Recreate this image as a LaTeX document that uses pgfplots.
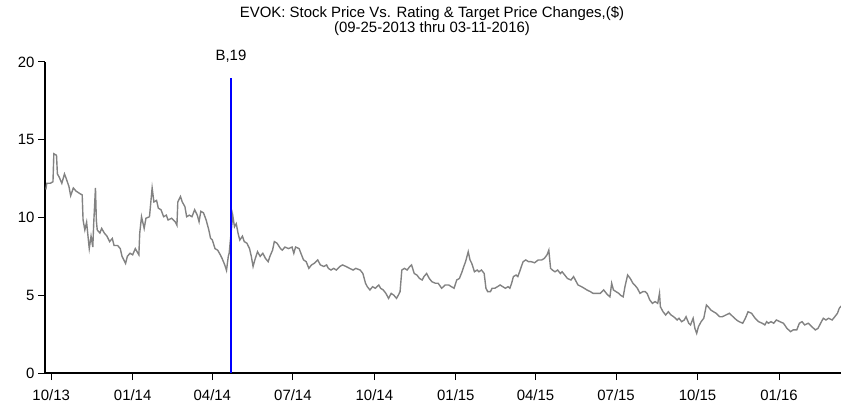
\documentclass[border=0pt]{standalone}
\usepackage{pgfplots}
\pgfplotsset{compat=1.18}
\usepackage{fontspec}
\setmainfont{Liberation Sans}
\pgfplotstableread{
day price
-6 11.8
-5 12.2
-1 12.2
2 12.3
3 14.1
6 14.0
7 12.8
9 12.6
12 12.2
15 12.8
17 12.5
20 12.0
22 11.4
25 11.9
28 11.7
32 11.55
35 11.45
36 9.84
38 9.2
40 9.7
42 8.55
43 8.0
45 8.8
47 8.1
48 9.6
50 11.9
51 9.8
52 9.2
55 9.0
57 9.3
60 9.0
63 8.8
66 8.45
69 8.65
71 8.2
75 8.2
78 8.0
80 7.5
84 7.05
86 7.5
89 7.7
92 7.6
95 8.0
99 7.6
100 9.0
102 10.05
105 9.3
107 9.95
111 10.05
114 11.9
116 11.0
119 11.1
121 10.6
124 10.5
127 10.05
130 10.15
132 9.84
136 9.95
140 9.73
142 9.5
143 11.0
146 11.35
148 11.0
151 10.7
153 10.05
156 10.15
159 10.05
162 10.5
165 10.15
167 9.73
169 10.4
172 10.3
175 9.84
178 9.2
180 8.66
182 8.55
185 8.0
188 7.9
191 7.6
193 7.37
196 6.95
198 6.6
200 7.5
201 7.7
205 10.15
207 9.4
209 9.6
211 9.0
213 8.55
216 8.8
218 8.45
221 8.35
224 8.0
226 7.5
228 6.85
230 7.27
233 7.8
236 7.5
239 7.7
242 7.37
245 7.16
247 7.5
250 7.9
252 8.45
255 8.35
259 8.0
261 7.9
264 8.1
268 8.0
272 8.1
274 7.7
276 8.1
280 8.0
282 7.7
285 7.27
288 7.16
291 6.73
294 6.95
297 7.05
301 7.27
304 6.95
308 6.85
311 6.95
313 6.73
316 6.62
319 6.73
322 6.62
326 6.85
329 6.95
333 6.85
337 6.73
341 6.62
344 6.73
349 6.62
352 6.4
355 5.77
357 5.55
360 5.34
363 5.55
366 5.45
370 5.66
372 5.45
375 5.34
378 5.12
381 4.8
384 5.12
387 5.0
390 4.8
392 5.0
394 5.23
396 6.62
399 6.73
402 6.62
405 6.85
407 6.95
410 6.4
413 6.3
416 6.08
419 5.98
421 6.2
424 6.4
427 6.08
430 5.87
434 5.77
437 5.77
441 5.45
445 5.66
449 5.66
452 5.55
455 5.45
458 5.98
461 6.08
464 6.51
466 6.85
468 7.16
471 7.8
473 7.27
475 7.05
478 6.51
481 6.62
483 6.51
486 6.62
489 6.4
491 5.45
493 5.23
496 5.23
498 5.45
501 5.45
504 5.55
507 5.66
510 5.55
513 5.45
516 5.55
518 5.45
520 5.77
522 6.2
525 6.3
527 6.2
529 6.51
531 6.85
533 7.16
536 7.27
539 7.16
542 7.16
546 7.09
550 7.27
554 7.27
557 7.37
560 7.6
562 7.9
564 6.73
566 6.62
569 6.51
572 6.62
575 6.4
577 6.51
580 6.3
583 6.08
587 5.98
590 6.2
593 5.87
595 5.66
599 5.55
602 5.45
605 5.34
609 5.23
612 5.12
616 5.12
620 5.12
624 5.34
627 5.12
629 5.0
631 4.9
633 5.77
635 5.34
638 5.23
641 5.12
643 5.0
646 4.9
648 5.55
651 6.3
654 6.08
657 5.77
659 5.66
662 5.45
665 5.12
668 5.23
671 5.23
673 5.12
676 4.7
679 4.48
682 4.59
685 4.48
687 5.12
688 4.26
691 3.94
694 3.73
697 3.94
700 3.73
703 3.62
707 3.41
709 3.52
712 3.3
715 3.41
717 3.62
720 3.2
722 3.09
725 3.52
727 2.87
729 2.55
731 2.98
734 3.3
737 3.52
740 4.37
742 4.26
745 4.05
748 3.94
751 3.84
755 3.62
758 3.62
762 3.73
766 3.84
770 3.62
774 3.41
777 3.3
781 3.2
784 3.52
787 3.94
791 3.84
795 3.52
799 3.3
803 3.2
806 3.09
808 3.3
810 3.2
813 3.3
816 3.2
819 3.41
823 3.3
827 3.2
831 2.87
835 2.66
838 2.77
842 2.77
845 3.2
848 3.3
851 3.09
855 3.2
859 2.98
863 2.77
866 2.87
869 3.2
872 3.52
875 3.41
878 3.52
882 3.41
885 3.62
888 3.84
890 4.16
892 4.3
}\pricedata
\begin{document}
\begin{tikzpicture}
\useasboundingbox (0,0) rectangle (841bp,407bp);
\node[font=\fontsize{15}{16}\selectfont, align=center] at (432bp,386bp)
  {EVOK: Stock Price Vs. Rating \& Target Price Changes,(\$)\\(09-25-2013 thru 03-11-2016)};
\begin{axis}[
  at={(45bp,34bp)}, anchor=south west,
  scale only axis, width=796bp, height=311bp,
  xmin=-7, xmax=892, ymin=0, ymax=20,
  axis x line*=bottom, axis y line*=left,
  axis line style={-, black, line width=1.3pt},
  tick style={black, line width=1pt},
  tick align=outside, major tick length=7bp,
  ytick={0,5,10,15,20},
  xtick={0,92,182,273,365,457,547,638,730,822},
  xticklabels={10/13,01/14,04/14,07/14,10/14,01/15,04/15,07/15,10/15,01/16},
  tick label style={font=\fontsize{15}{17}\selectfont},
  x tick label style={yshift=-6bp},
  /pgf/number format/assume math mode=true,
  clip=false,
]
\addplot[color={rgb,255:red,130;green,130;blue,130}, line width=1.4pt] table[x=day, y=price] {\pricedata};
\addplot[blue, line width=1.6pt] coordinates {(203,0) (203,19)};
\node[anchor=base, font=\fontsize{15}{17}\selectfont, inner sep=0pt] at (axis cs:203,20.1) {B,19};
\end{axis}
\end{tikzpicture}
\end{document}
